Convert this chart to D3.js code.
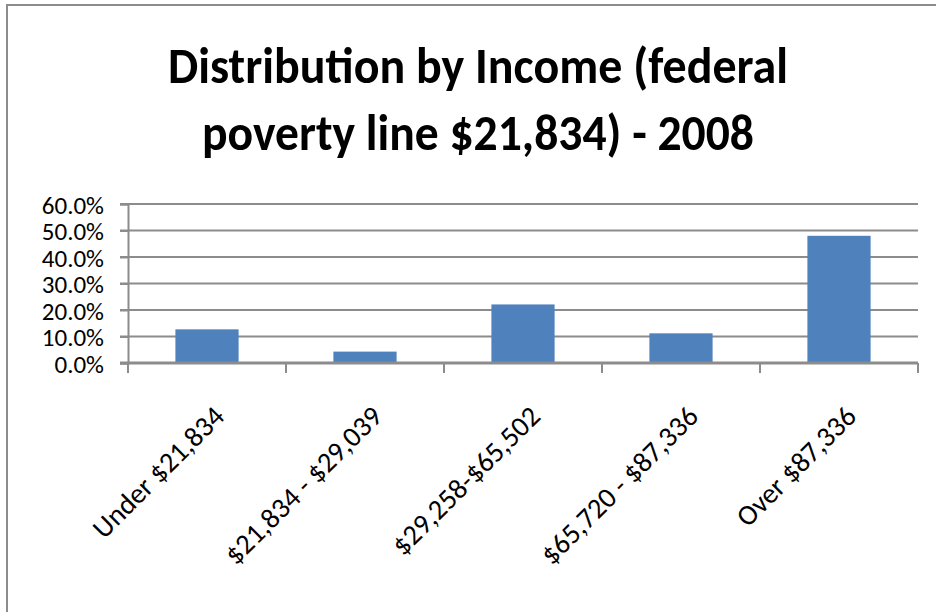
<!DOCTYPE html>
<html>
<head>
<meta charset="utf-8">
<script src="https://cdn.jsdelivr.net/npm/d3@7"></script>
<style>
  body { margin: 0; background: #fff; }
  text { font-family: Carlito, Calibri, Lato, sans-serif; fill: #000; }
</style>
</head>
<body>
<div id="vis"></div>
<script>
// data
var categories = ["Under $21,834", "$21,834 - $29,039", "$29,258-$65,502", "$65,720 - $87,336", "Over $87,336"];
var shares = [0.127, 0.043, 0.221, 0.112, 0.480];
var yTicks = [0, 0.1, 0.2, 0.3, 0.4, 0.5, 0.6];
var titleLines = ["Distribution by Income (federal", "poverty line $21,834) - 2008"];

// layout
var W = 936, H = 612;
var plot = {left: 128, right: 918, top: 204, bottom: 363};

var svg = d3.select("#vis")
	.append("svg")
	.attr("width", W)
	.attr("height", H);

svg.append("rect").attr("width", W).attr("height", H).attr("fill", "#fff");

// chart frame (only top and left edges show)
svg.append("path")
	.attr("d", "M7,612 V5 H936")
	.attr("fill", "none")
	.attr("stroke", "#8c8c8c")
	.attr("stroke-width", 2);

// title
var titleW = [620, 552], titleY = [83, 150];
svg.selectAll(".title")
	.data(titleLines)
	.enter()
	.append("text")
	.attr("class", "title")
	.attr("x", 478)
	.attr("y", function(d, i) { return titleY[i]; })
	.attr("text-anchor", "middle")
	.attr("font-size", 50)
	.attr("font-weight", "bold")
	.attr("textLength", function(d, i) { return titleW[i]; })
	.attr("lengthAdjust", "spacingAndGlyphs")
	.text(function(d) { return d; });

// scales
var x = d3.scaleBand()
	.domain(categories)
	.range([plot.left, plot.right])
	.paddingInner(0.6)
	.paddingOuter(0.3);

var y = d3.scaleLinear()
	.domain([0, 0.6])
	.range([plot.bottom, plot.top]);

var step = x.step();

// gridlines
svg.append("g")
	.attr("class", "grid")
	.selectAll("line")
	.data(yTicks.slice(1))
	.enter()
	.append("line")
	.attr("x1", plot.left - 8)
	.attr("x2", plot.right)
	.attr("y1", function(d) { return y(d); })
	.attr("y2", function(d) { return y(d); })
	.attr("stroke", "#8c8c8c")
	.attr("stroke-width", 2);

// y axis
var yAxis = svg.append("g")
	.attr("transform", "translate(" + plot.left + ",0)")
	.call(d3.axisLeft(y)
		.tickValues(yTicks)
		.tickFormat(d3.format(".1%"))
		.tickSize(8)
		.tickPadding(16));

yAxis.select(".domain").attr("stroke", "#8c8c8c").attr("stroke-width", 2);
yAxis.selectAll(".tick line").attr("stroke", "#8c8c8c").attr("stroke-width", 2);
yAxis.selectAll(".tick text")
	.attr("font-size", 25)
	.attr("font-family", "Carlito, Calibri, Lato, sans-serif")
	.attr("fill", "#000")
	.attr("dy", "0.36em");

// bars
svg.append("g")
	.selectAll(".bar")
	.data(shares)
	.enter()
	.append("rect")
	.attr("class", "bar")
	.attr("x", function(d, i) { return x(categories[i]); })
	.attr("y", function(d) { return y(d); })
	.attr("width", x.bandwidth())
	.attr("height", function(d) { return y(0) - y(d); })
	.attr("fill", "#4f81bd");

// category axis
svg.append("line")
	.attr("x1", plot.left - 8)
	.attr("x2", plot.right)
	.attr("y1", plot.bottom)
	.attr("y2", plot.bottom)
	.attr("stroke", "#8c8c8c")
	.attr("stroke-width", 3);

svg.append("g")
	.selectAll("line")
	.data(d3.range(categories.length + 1))
	.enter()
	.append("line")
	.attr("x1", function(i) { return plot.left + i * step; })
	.attr("x2", function(i) { return plot.left + i * step; })
	.attr("y1", plot.bottom)
	.attr("y2", plot.bottom + 10)
	.attr("stroke", "#8c8c8c")
	.attr("stroke-width", 2);

svg.append("g")
	.selectAll("text")
	.data(categories)
	.enter()
	.append("text")
	.attr("font-size", 28.5)
	.attr("text-anchor", "end")
	.attr("transform", function(d) {
		var cx = x(d) + x.bandwidth() / 2 + 19;
		return "translate(" + cx + "," + 418 + ") rotate(-45)";
	})
	.text(function(d) { return d; });
</script>
</body>
</html>
